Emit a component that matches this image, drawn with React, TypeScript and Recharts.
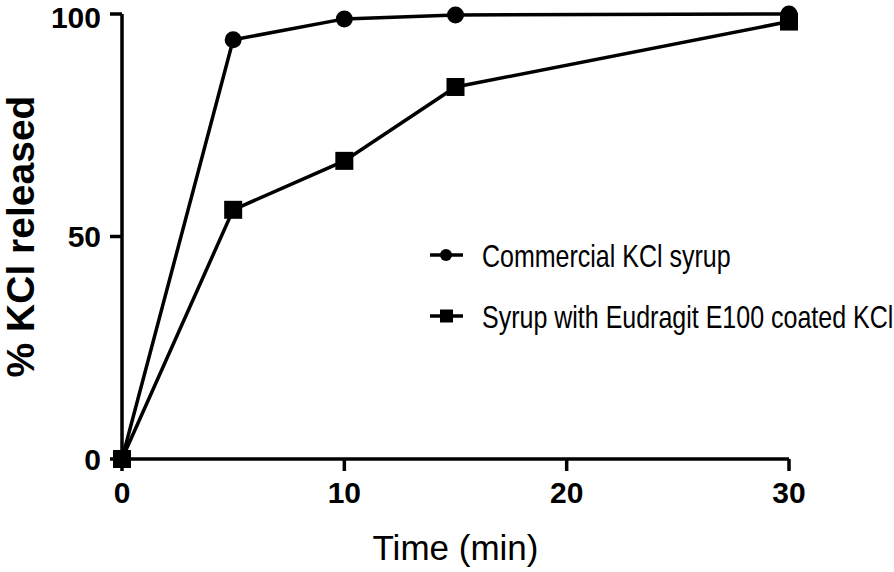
import React from 'react';
import { LineChart, Line, XAxis, YAxis } from 'recharts';

const times = [0, 5, 10, 15, 30];
const commercial = [0, 94.2, 98.9, 99.8, 100];
const coated = [0, 56, 67, 83.6, 98.3];
const xTicks = [0, 10, 20, 30];
const yTicks = [0, 50, 100];
const seriesNames = ['Commercial KCl syrup', 'Syrup with Eudragit E100 coated KCl'];

const data = times.map((t, i) => ({ t, commercial: commercial[i], coated: coated[i] }));

const FONT = '"Liberation Sans", Arial, Helvetica, sans-serif';
const NARROW = 0.82;

const CircleDot = (props: any) => {
  const { cx, cy } = props;
  if (cx == null || cy == null) return null;
  return <circle cx={cx} cy={cy} r={8.5} fill="#000" />;
};
const SquareDot = (props: any) => {
  const { cx, cy } = props;
  if (cx == null || cy == null) return null;
  return <rect x={cx - 9} y={cy - 9} width={18} height={18} fill="#000" />;
};

const YLabel = (props: any) => {
  const vb = props.viewBox || {};
  const cy = (vb.y || 0) + (vb.height || 0) / 2;
  return (
    <text x={34} y={cy} transform={`rotate(-90, 34, ${cy})`} textAnchor="middle"
      fontFamily={FONT} fontWeight="bold" fontSize={39} fill="#000">
      % KCl released
    </text>
  );
};

const XLabel = (props: any) => {
  const vb = props.viewBox || {};
  const cx = (vb.x || 0) + (vb.width || 0) / 2;
  return (
    <text x={cx} y={560} textAnchor="middle" fontFamily={FONT} fontSize={35} fill="#000">
      Time (min)
    </text>
  );
};

const LegendOverlay = () => (
  <svg width={894} height={572} style={{ position: 'absolute', left: 0, top: 0, pointerEvents: 'none' }}>
    {seriesNames.map((name, i) => {
      const y = 255 + i * 61;
      return (
        <g key={name}>
          <line x1={430} x2={463} y1={y} y2={y} stroke="#000" strokeWidth={3.5} />
          {i === 0 ? <circle cx={446} cy={y} r={6} fill="#000" /> : <rect x={440} y={y - 6.5} width={13} height={13} fill="#000" />}
          <g transform={`translate(482, ${y + 12}) scale(${NARROW},1)`}>
            <text x={0} y={0} fontFamily={FONT} fontSize={30.5} fill="#000">{name}</text>
          </g>
        </g>
      );
    })}
  </svg>
);

const tickStyle = { fill: '#000', fontFamily: FONT, fontWeight: 'bold' as const, fontSize: 30 };

export default function App() {
  return (
    <div style={{ position: 'absolute', left: 0, top: 0, width: 894, height: 572, background: '#fff' }}>
      <LineChart width={894} height={572} data={data} margin={{ top: 14, right: 105, bottom: 0, left: 0 }}>
        <XAxis dataKey="t" type="number" domain={[0, 30]} ticks={xTicks} height={113}
          axisLine={{ stroke: '#000', strokeWidth: 3.5 }} tickLine={{ stroke: '#000', strokeWidth: 3.5 }}
          tickSize={12} tickMargin={11}
          tick={tickStyle}
          label={<XLabel />} />
        <YAxis type="number" domain={[0, 100]} ticks={yTicks} width={122}
          axisLine={{ stroke: '#000', strokeWidth: 3.5 }} tickLine={{ stroke: '#000', strokeWidth: 3.5 }}
          tickSize={12} tickMargin={9}
          tick={tickStyle}
          label={<YLabel />} />
        <Line dataKey="commercial" name={seriesNames[0]} stroke="#000" strokeWidth={3.5} dot={<CircleDot />} isAnimationActive={false} />
        <Line dataKey="coated" name={seriesNames[1]} stroke="#000" strokeWidth={3.5} dot={<SquareDot />} isAnimationActive={false} />
      </LineChart>
      <LegendOverlay />
    </div>
  );
}
